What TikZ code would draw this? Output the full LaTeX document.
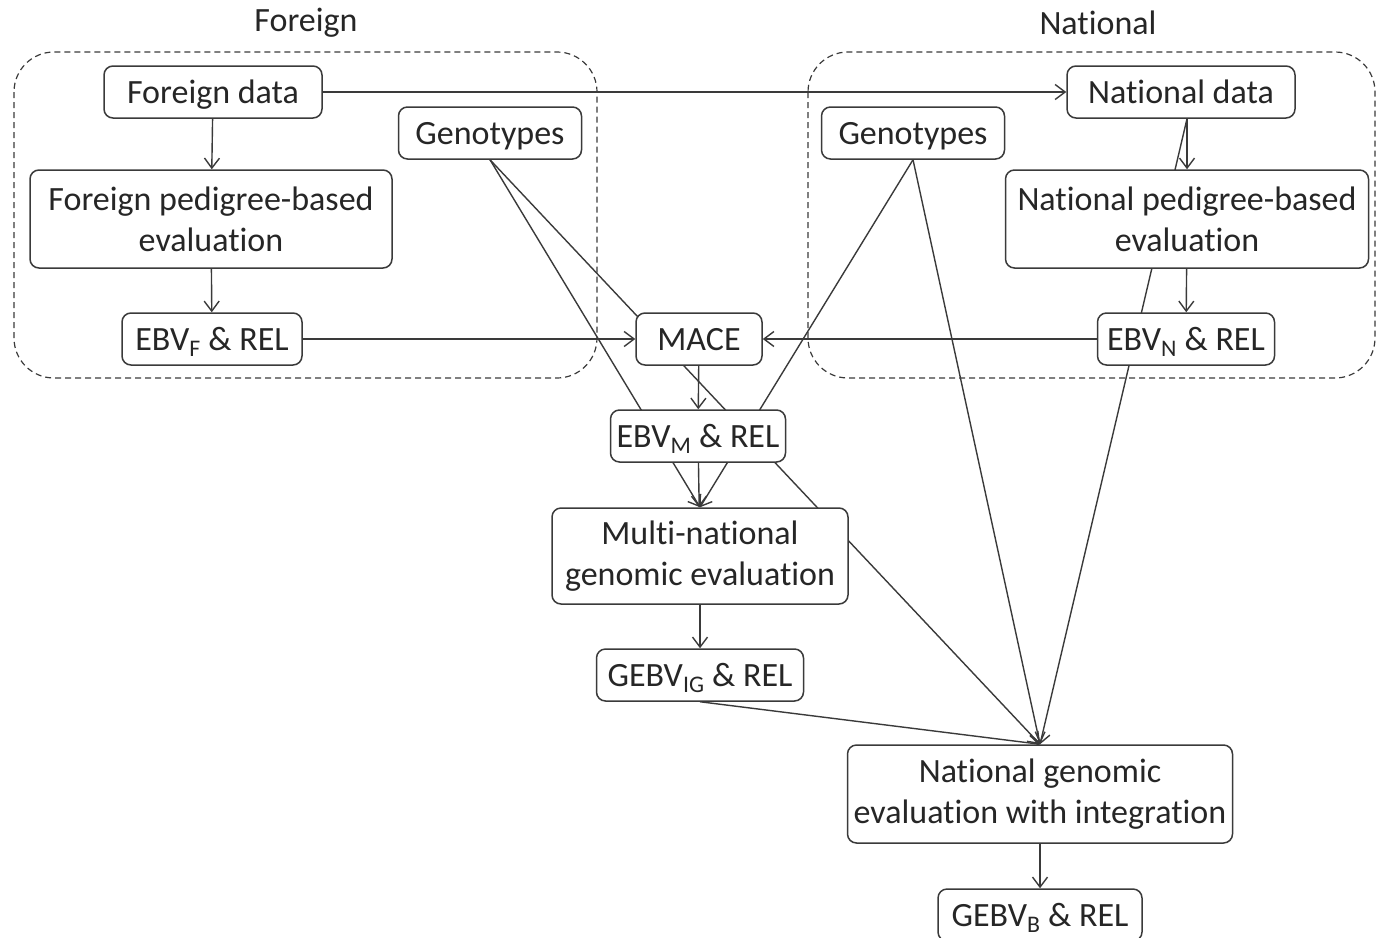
\documentclass[tikz,border=0pt]{standalone}
\usepackage{fontspec}
\setmainfont{Carlito}[Ligatures=NoCommon]
\usetikzlibrary{arrows.meta,backgrounds}

\definecolor{linegray}{HTML}{3a3a3a}
\definecolor{textgray}{HTML}{262626}

\tikzset{box/.style={draw=linegray, line width=1.5pt, rounded corners=9pt, fill=white, align=center, inner sep=0pt, text=textgray}}
\tikzset{oneline/.style={box, minimum height=52pt, text height=29pt, text depth=7pt}}
\tikzset{group/.style={draw=linegray, line width=1.2pt, dash pattern=on 6pt off 4pt, rounded corners=40pt}}
\tikzset{link/.style={draw=linegray, line width=1.4pt, -{Straight Barb[length=10pt,width=15pt]}}}
\def \twoh {98pt}

\begin{document}
\begin{tikzpicture}[x=1pt, y=-1pt]

    \fontsize{34}{41}\selectfont
    \useasboundingbox (0,0) rectangle (1380,937);

    % foreign side
    \node[oneline, minimum width=218pt] (fdata) at (213,92) {Foreign data};
    \node[box, minimum width=362pt, minimum height=\twoh] (fped) at (211,219) {Foreign pedigree-based\\evaluation};
    \node[oneline, minimum width=180pt] (febv) at (212,339) {EBV\textsubscript{F} \& REL};
    \node[oneline, minimum width=183pt] (genL) at (490,133) {Genotypes};

    % national side
    \node[oneline, minimum width=228pt] (ndata) at (1181,92) {National data};
    \node[box, minimum width=363pt, minimum height=\twoh] (nped) at (1187,219) {National pedigree-based\\evaluation};
    \node[oneline, minimum width=177pt] (nebv) at (1186,339) {EBV\textsubscript{N} \& REL};
    \node[oneline, minimum width=183pt] (genR) at (913,133) {Genotypes};

    % middle
    \node[oneline, minimum width=126pt] (mace) at (699,339) {MACE};
    \node[oneline, minimum width=175pt] (mebv) at (698,436) {EBV\textsubscript{M} \& REL};
    \node[box, minimum width=296pt, minimum height=96pt] (multi) at (700,556) {Multi-national\\genomic evaluation};
    \node[oneline, minimum width=207pt] (gig) at (700,675) {GEBV\textsubscript{IG} \& REL};
    \node[box, minimum width=385pt, minimum height=\twoh] (ngen) at (1040,794) {National genomic\\evaluation with integration};
    \node[oneline, minimum width=204pt] (gb) at (1040,915) {GEBV\textsubscript{B} \& REL};

    \node[text=textgray] (tforeign) at (306,23) {Foreign};
    \node[text=textgray] (tnational) at (1098,23) {National};

    \begin{scope}[on background layer]
    \draw[group] (14,52) rectangle (597,378);
    \draw[group] (808,52) rectangle (1375,378);

    \draw[link] (fdata) -- (ndata);
    \draw[link] (fdata) -- (fped);
    \draw[link] (fped) -- (febv);
    \draw[link] (febv) -- (mace);
    \draw[link] (nebv) -- (mace);
    \draw[link] (ndata.south -| nped.north) -- (nped.north);
    \draw[link] (nped) -- (nebv);
    \draw[link] (mace) -- (mebv);
    \draw[link] (mebv) -- (multi);
    \draw[link] (multi) -- (gig);
    \draw[link] (ngen) -- (gb);

    \draw[link] (genL.south) -- (multi.north);
    \draw[link] (genR.south) -- (multi.north);
    \draw[link] (genL.south) -- (ngen.north);
    \draw[link] (genR.south) -- (ngen.north);
    \draw[link] (ndata.south -| nped.north) -- (ngen.north);
    \draw[link] (gig.south) -- (ngen.north);
    \end{scope}

\end{tikzpicture}
\end{document}
